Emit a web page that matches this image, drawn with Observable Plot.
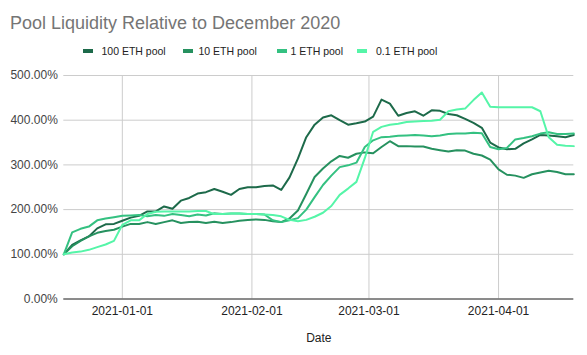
<!DOCTYPE html>
<html>
<head>
<meta charset="utf-8">
<script src="https://cdn.jsdelivr.net/npm/d3@7"></script>
<script src="https://cdn.jsdelivr.net/npm/@observablehq/plot@0.6"></script>
<style>
  body { margin: 0; background: #fff; font-family: Arial, "Liberation Sans", sans-serif; }
  #wrap { position: relative; width: 587px; height: 355px; overflow: hidden; background: #fff; }
  #title { position: absolute; left: 10px; top: 14px; font-size: 18px; line-height: 18px; color: #757575; white-space: nowrap; }
  .lg { position: absolute; top: 46px; font-size: 10.5px; line-height: 10.5px; color: #222; white-space: nowrap; }
  .sw { position: absolute; top: 49px; width: 10px; height: 4px; }
  #chart { position: absolute; left: 0; top: 65px; }
</style>
</head>
<body>
<div id="wrap">
  <div id="title">Pool Liquidity Relative to December 2020</div>
  <div id="legend"></div>
  <div id="chart"></div>
</div>
<script>
const pools = ["100 ETH pool", "10 ETH pool", "1 ETH pool", "0.1 ETH pool"];
const poolColors = ["#1d6a4a", "#26915f", "#34c181", "#55f5a8"];

const dates = [
  "2020-12-18","2020-12-20","2020-12-22","2020-12-24","2020-12-26","2020-12-28","2020-12-30",
  "2021-01-01","2021-01-03","2021-01-05","2021-01-07","2021-01-09","2021-01-11","2021-01-13",
  "2021-01-15","2021-01-17","2021-01-19","2021-01-21","2021-01-23","2021-01-25","2021-01-27",
  "2021-01-29","2021-01-31","2021-02-02","2021-02-04","2021-02-06","2021-02-08","2021-02-10",
  "2021-02-12","2021-02-14","2021-02-16","2021-02-18","2021-02-20","2021-02-22","2021-02-24",
  "2021-02-26","2021-02-28","2021-03-02","2021-03-04","2021-03-06","2021-03-08","2021-03-10",
  "2021-03-12","2021-03-14","2021-03-16","2021-03-18","2021-03-20","2021-03-22","2021-03-24",
  "2021-03-26","2021-03-28","2021-03-30","2021-04-01","2021-04-03","2021-04-05","2021-04-07",
  "2021-04-09","2021-04-11","2021-04-13","2021-04-15","2021-04-17","2021-04-19"
];

const eth100 = [100,121,131,140,158,167,168, 175,182,186,196,196,207,202, 220,226,236,239,246,240,233,
  246,250,250,253,254,244,272, 314,362,390,406,411,400,390, 393,397,408,446,437,410,416,
  420,410,422,421,414,411,403, 394,383,350,339,335,336,348, 357,367,366,364,362,367];
const eth10 = [100,118,130,140,148,152,155, 162,168,168,172,168,172,176, 170,172,173,170,173,170,172,
  175,177,178,177,174,172,180, 198,235,273,292,308,320,316, 325,328,326,340,353,342,342,
  341,341,336,333,330,333,332, 325,321,312,290,278,276,271, 279,283,287,284,279,279];
const eth1 = [100,149,157,162,176,180,183, 186,187,188,185,188,186,190, 188,185,189,187,192,190,191,
  191,190,190,189,176,172,176, 181,200,228,255,276,295,299, 305,340,355,362,363,365,366,
  367,366,364,366,369,370,370, 372,371,340,335,338,357,360, 364,370,373,369,369,370];
const eth01 = [100,104,106,110,116,122,130, 166,176,176,190,195,196,196, 196,196,197,197,190,190,191,
  191,190,190,189,188,185,177, 174,177,184,193,208,233,247, 262,315,374,385,390,392,396,
  397,398,399,401,420,424,426, 445,462,430,429,429,429,429, 429,420,362,345,343,342];

const yTicks = [0, 100, 200, 300, 400, 500];
const xTickLabels = ["2021-01-01", "2021-02-01", "2021-03-01", "2021-04-01"];
const xDomain = ["2020-12-18", "2021-04-19"];

// legend
const legendX = [83, 183, 277, 357];
const legendTextX = [101.5, 198.5, 290.5, 376];
const lg = document.getElementById("legend");
pools.forEach((p, i) => {
  const sw = document.createElement("div");
  sw.className = "sw"; sw.style.left = legendX[i] + "px"; sw.style.background = poolColors[i];
  lg.appendChild(sw);
  const t = document.createElement("div");
  t.className = "lg"; t.style.left = legendTextX[i] + "px"; t.textContent = p;
  lg.appendChild(t);
});

const parse = d3.utcParse("%Y-%m-%d");
const seriesVals = [eth100, eth10, eth1, eth01];
const rows = [];
seriesVals.forEach((vals, i) => {
  vals.forEach((v, j) => rows.push({date: parse(dates[j]), value: v, pool: pools[i]}));
});
const xTicks = xTickLabels.map(parse);

const chart = Plot.plot({
  width: 587,
  height: 290,
  marginTop: 10,
  marginBottom: 56.5,
  marginLeft: 63.3,
  marginRight: 13.7,
  style: { fontFamily: 'Arial, "Liberation Sans", sans-serif', fontSize: "12px", background: "#fff" },
  x: { type: "utc", domain: xDomain.map(parse) },
  y: { domain: [0, 500] },
  color: { domain: pools, range: poolColors },
  marks: [
    Plot.gridY(yTicks, { stroke: "#cccccc", strokeOpacity: 1 }),
    Plot.gridX(xTicks, { stroke: "#cccccc", strokeOpacity: 1 }),
    Plot.ruleY([0], { stroke: "#333333", strokeWidth: 1 }),
    Plot.axisY(yTicks, { tickSize: 0, tickPadding: 6, tickFormat: d => d.toFixed(2) + "%", fill: "#444", label: null, fontSize: 12 }),
    Plot.axisX(xTicks, { tickSize: 0, tickPadding: 7, tickFormat: d3.utcFormat("%Y-%m-%d"), fill: "#222", label: null, fontSize: 12 }),
    Plot.line(rows, { x: "date", y: "value", z: "pool", stroke: "pool", strokeWidth: 2, strokeLinejoin: "round" }),
    Plot.text(["Date"], { frameAnchor: "bottom", dy: 43, text: d => d, fill: "#222", fontSize: 12 })
  ]
});
document.getElementById("chart").appendChild(chart);
</script>
</body>
</html>
